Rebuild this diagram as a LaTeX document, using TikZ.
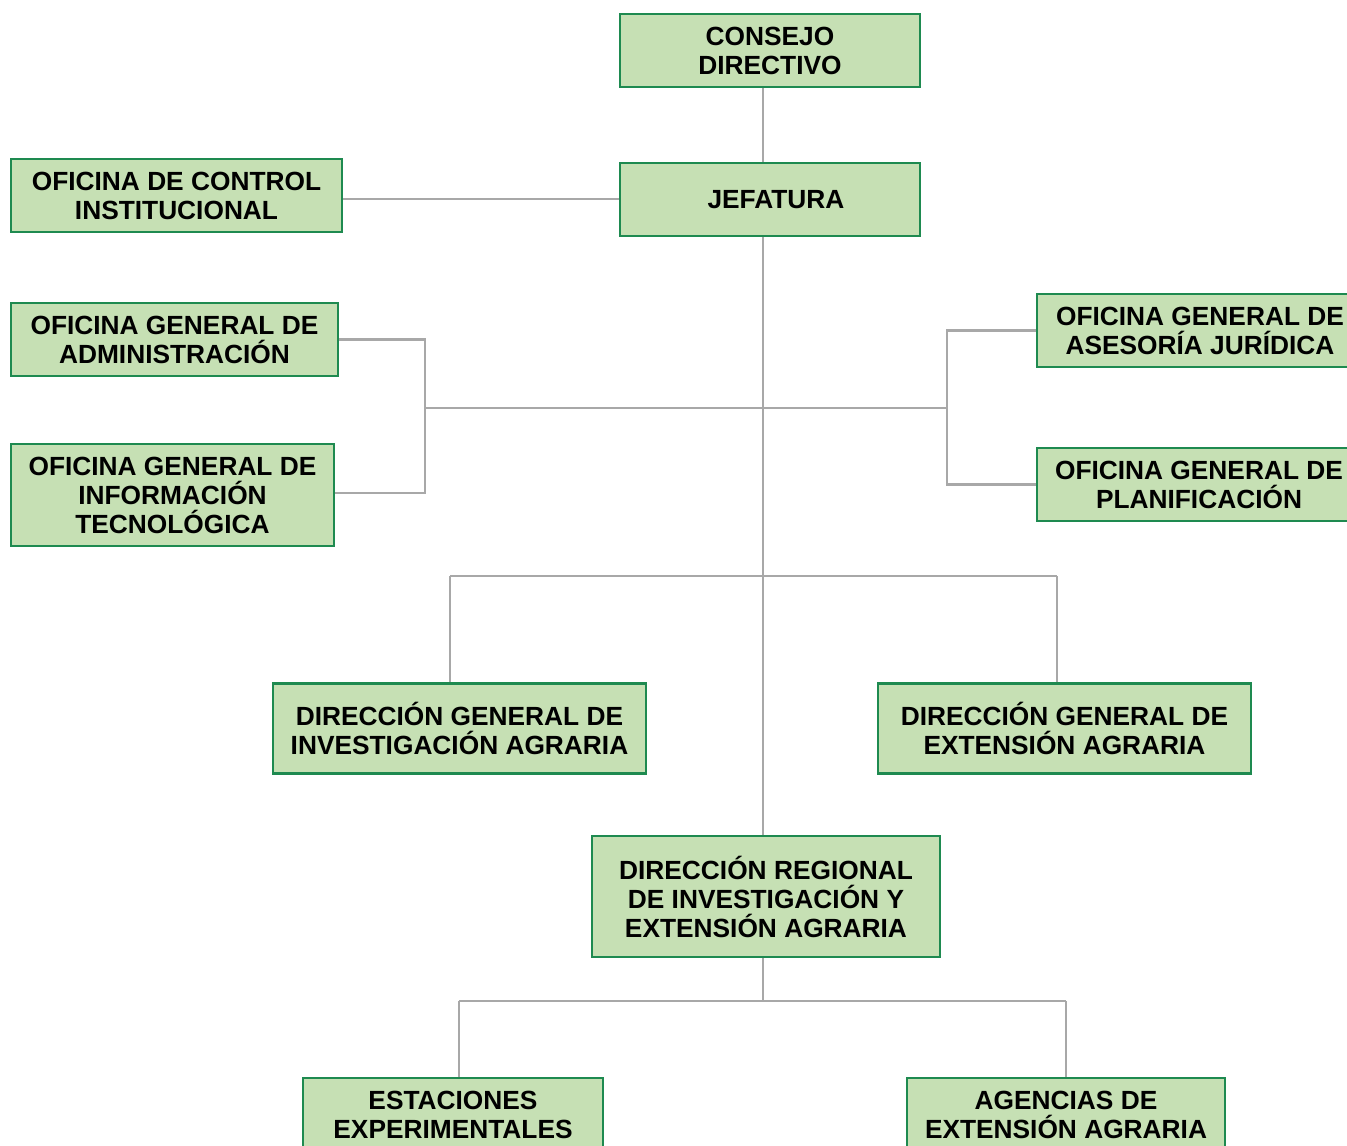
\documentclass[tikz,border=0pt]{standalone}
\usepackage{fontspec}
\setmainfont{Liberation Sans}
\usetikzlibrary{backgrounds}
\definecolor{boxfill}{HTML}{C6E0B4}
\definecolor{boxline}{HTML}{1E8A50}
\definecolor{wire}{HTML}{A8A8A8}
\begin{document}
\begin{tikzpicture}[x=1pt,y=-1pt,
  unit/.style={draw=boxline, line width=2.2pt, fill=boxfill, inner sep=0pt,
    align=center, font=\bfseries\fontsize{26.3}{29}\selectfont},
  link/.style={draw=wire, line width=2.8pt}]
\useasboundingbox (0,0) rectangle (1347,1146);
\clip (0,0) rectangle (1347,1146);

% units
\node[unit, minimum width=300, minimum height=73] (consejo) at (770,50.5) {CONSEJO\\DIRECTIVO};
\node[unit, minimum width=300, minimum height=73] (jef) at (770,199.5) {\hspace*{12pt}JEFATURA};
\node[unit, minimum width=331, minimum height=73] (ctrl) at (176.5,195.5) {OFICINA DE CONTROL\\INSTITUCIONAL};
\node[unit, minimum width=327, minimum height=73] (adm) at (174.5,339.5) {OFICINA GENERAL DE\\ADMINISTRACIÓN};
\node[unit, minimum width=323, minimum height=102] (inf) at (172.5,495) {OFICINA GENERAL DE\\INFORMACIÓN\\TECNOLÓGICA};
\node[unit, minimum width=326, minimum height=73] (ase) at (1200,330.5) {OFICINA GENERAL DE\\ASESORÍA JURÍDICA};
\node[unit, minimum width=324, minimum height=73] (plan) at (1199,484.5) {OFICINA GENERAL DE\\PLANIFICACIÓN};
\node[unit, minimum width=373, minimum height=90] (dgi) at (459.5,728.5) {DIRECCIÓN GENERAL DE\\INVESTIGACIÓN AGRARIA};
\node[unit, minimum width=373, minimum height=90] (dge) at (1064.5,728.5) {DIRECCIÓN GENERAL DE\\EXTENSIÓN AGRARIA};
\node[unit, minimum width=348, minimum height=121] (dr) at (766,896.5) {DIRECCIÓN REGIONAL\\DE INVESTIGACIÓN Y\\EXTENSIÓN AGRARIA};
\node[unit, minimum width=300, minimum height=73] (est) at (453,1114.5) {ESTACIONES\\EXPERIMENTALES};
\node[unit, minimum width=318, minimum height=73] (age) at (1066,1114.5) {AGENCIAS DE\\EXTENSIÓN AGRARIA};

% junction points
\coordinate (tx) at (763,0);
\coordinate (lb) at (425,408);
\coordinate (rb) at (947,408);
\coordinate (d1) at (450,576);
\coordinate (d2) at (1057,576);
\coordinate (dm) at (763,1001);
\coordinate (e1) at (459,1001);
\coordinate (e2) at (1066,1001);

\begin{scope}[on background layer]
  \draw[link] (consejo.south -| tx) -- (jef.north -| tx);
  \draw[link] (jef.south -| tx) -- (dr.north -| tx);
  \draw[link] (ctrl.east |- 0,199) -- (jef.west |- 0,199);
  \draw[link] (adm.east) -| (lb);
  \draw[link] (inf.east |- 0,493) -| (lb);
  \draw[link] (lb) -- (rb);
  \draw[link] (ase.west) -| (rb);
  \draw[link] (plan.west) -| (rb);
  \draw[link] (d1) -- (d2);
  \draw[link] (d1) -- (d1 |- dgi.north);
  \draw[link] (d2) -- (d2 |- dge.north);
  \draw[link] (dr.south -| tx) -- (dm);
  \draw[link] (e1) -- (e2);
  \draw[link] (e1) -- (e1 |- est.north);
  \draw[link] (e2) -- (e2 |- age.north);
\end{scope}
\end{tikzpicture}
\end{document}
